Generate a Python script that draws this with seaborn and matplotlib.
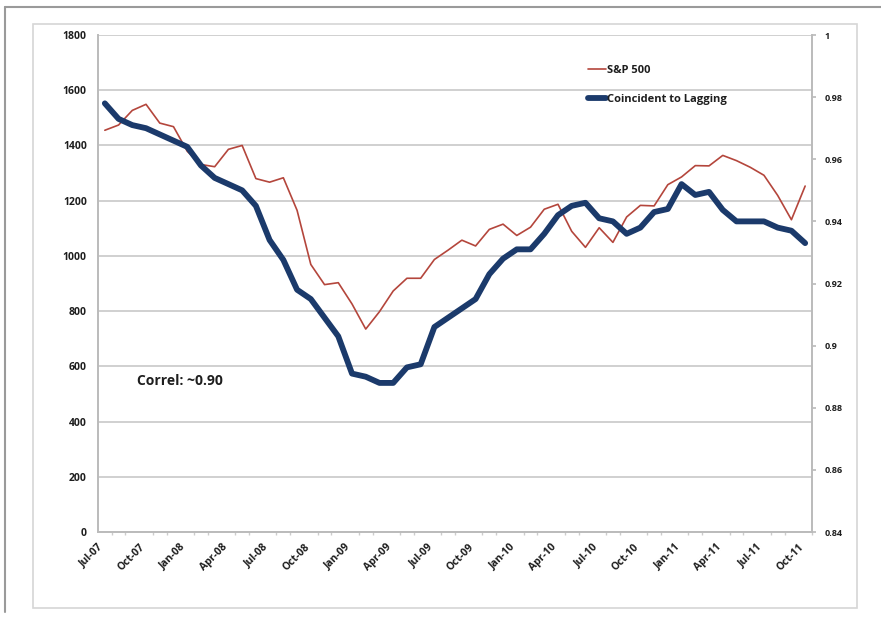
import numpy as np
import pandas as pd
import matplotlib
matplotlib.use("Agg")
import matplotlib.pyplot as plt
import seaborn as sns
from matplotlib.lines import Line2D
from matplotlib.patches import Rectangle

months = pd.date_range("2007-07-01", "2011-10-01", freq="MS")
sp500 = [1455, 1474, 1527, 1549, 1481, 1468, 1379, 1331, 1323, 1386, 1400, 1280,
         1267, 1283, 1165, 969, 896, 903, 826, 735, 798, 873, 919, 919,
         987, 1021, 1057, 1036, 1096, 1115, 1074, 1104, 1169, 1187, 1089, 1031,
         1102, 1049, 1141, 1183, 1181, 1258, 1286, 1327, 1326, 1364, 1345, 1321,
         1292, 1219, 1131, 1253]
coinc_lag = [0.978, 0.973, 0.971, 0.970, 0.968, 0.966, 0.964, 0.958, 0.954, 0.952, 0.950, 0.945,
             0.934, 0.9276, 0.918, 0.915, 0.909, 0.903, 0.891, 0.890, 0.888, 0.888, 0.893, 0.894,
             0.906, 0.909, 0.912, 0.915, 0.923, 0.928, 0.931, 0.931, 0.936, 0.942, 0.945, 0.946,
             0.941, 0.940, 0.936, 0.938, 0.943, 0.944, 0.952, 0.9485, 0.9495, 0.9437, 0.940, 0.940,
             0.940, 0.938, 0.937, 0.933]
left_ticks = list(range(0, 2000, 200))
right_ticks = [0.84, 0.86, 0.88, 0.9, 0.92, 0.94, 0.96, 0.98, 1.0]
right_labels = ["0.84", "0.86", "0.88", "0.9", "0.92", "0.94", "0.96", "0.98", "1"]

df = pd.DataFrame({"month": months, "S&P 500": sp500, "Coincident to Lagging": coinc_lag})
df["pos"] = np.arange(len(df))

sns.set_theme(style="white")
plt.rcParams["font.family"] = ["Open Sans", "DejaVu Sans"]

red = "#B4463C"
navy = "#1B3A6B"
grid_c = "#C8C8C8"
txt_c = "#1E1E1E"

fig = plt.figure(figsize=(8.81, 6.24), dpi=100)
ax = fig.add_axes([0.1112, 0.1474, 0.8105, 0.7965])
ax2 = ax.twinx()

sns.lineplot(data=df, x="pos", y="S&P 500", ax=ax, color=red, linewidth=1.2)
sns.lineplot(data=df, x="pos", y="Coincident to Lagging", ax=ax2, color=navy, linewidth=4.2)

ax.set_xlim(-0.5, len(df) - 0.5)
ax.set_ylim(0, 1800)
ax2.set_ylim(0.84, 1.0)
ax.set_yticks(left_ticks)
ax.set_yticklabels([str(t) for t in left_ticks])
ax2.set_yticks(right_ticks)
ax2.set_yticklabels(right_labels)

major = np.arange(-0.5, len(df) - 0.5 + 0.01, 3)
ax.set_xticks(major)
ax.set_xticklabels([m.strftime("%b-%y") for m in months[::3]], rotation=45,
                   ha="right", va="top", rotation_mode="anchor")
ax.set_xticks(np.arange(-0.5, len(df) - 0.5 + 0.01, 1), minor=True)
ax.set_xlabel("")
ax.set_ylabel("")
ax2.set_ylabel("")

ax.grid(axis="y", color=grid_c, linewidth=1.2)
ax.set_axisbelow(True)
for a in (ax, ax2):
    a.spines["top"].set_visible(False)
    for s in ("left", "right", "bottom"):
        a.spines[s].set_color("#BBBBBB")
ax.tick_params(axis="x", which="major", length=4, color="#BBBBBB", labelsize=7.5, pad=3, labelcolor=txt_c)
ax.tick_params(axis="x", which="minor", length=2, color="#CCCCCC", bottom=True)
ax.tick_params(axis="y", length=0, labelsize=7.5, pad=8, labelcolor=txt_c)
ax2.tick_params(axis="y", length=3, color="#BBBBBB", labelsize=6.5, pad=6, labelcolor=txt_c)
for lab in ax.get_xticklabels() + ax.get_yticklabels() + ax2.get_yticklabels():
    lab.set_fontweight("bold")

handles = [Line2D([], [], color=red, linewidth=1.2), Line2D([], [], color=navy, linewidth=4.2)]
leg = ax2.legend(handles, ["S&P 500", "Coincident to Lagging"], loc="upper left",
                 bbox_to_anchor=(0.672, 0.96), frameon=False, handlelength=1.6,
                 handletextpad=0.1, labelspacing=1.6, prop={"weight": "bold", "size": 8})
for t in leg.get_texts():
    t.set_color(txt_c)

ax.text(0.055, 0.304, "Correl: ~0.90", transform=ax.transAxes, fontsize=10,
        fontweight="bold", color=txt_c, va="center")

# chart frames
fig.add_artist(Rectangle((33 / 881, 1 - 608 / 624), (857 - 33) / 881, (608 - 24) / 624,
                         transform=fig.transFigure, fill=False, edgecolor="#D6D6D6", linewidth=1.2))
fig.add_artist(Line2D([5 / 881, 5 / 881], [1 - 7 / 624, 1 - 612 / 624], transform=fig.transFigure,
                      color="#9A9A9A", linewidth=1.5))
fig.add_artist(Line2D([5 / 881, 1.0], [1 - 7 / 624, 1 - 7 / 624], transform=fig.transFigure,
                      color="#9A9A9A", linewidth=1.5))

fig.savefig("out.png", dpi=100)
